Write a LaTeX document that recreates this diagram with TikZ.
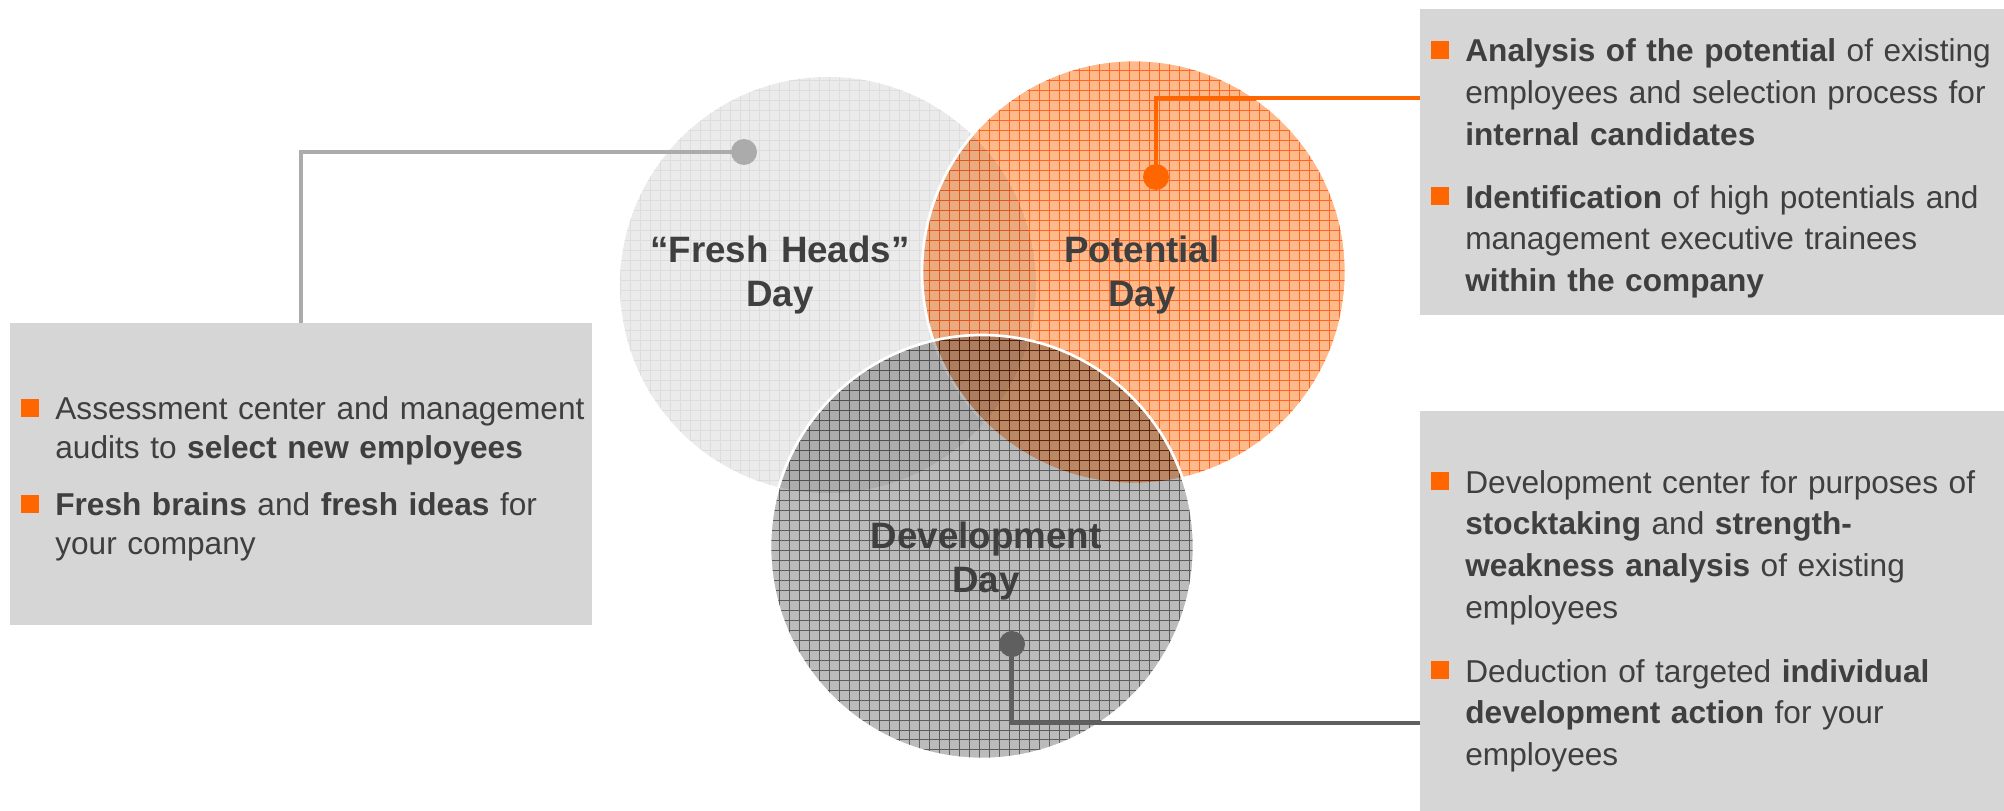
\documentclass[tikz,border=0pt]{standalone}
\usepackage{fontspec}
\setmainfont{Liberation Sans}
\definecolor{txt}{HTML}{3F3F3F}
\definecolor{boxgray}{HTML}{D6D6D6}
\definecolor{accent}{HTML}{FF6600}
\definecolor{freshfill}{HTML}{EBEBEB}
\definecolor{freshgrid}{HTML}{DDDDDD}
\definecolor{potfill}{HTML}{FFBA8C}
\definecolor{potgrid}{HTML}{FF8C40}
\definecolor{devfill}{HTML}{BBBBBB}
\definecolor{devgrid}{HTML}{7E7E7E}
\definecolor{linegray}{HTML}{ABABAB}
\definecolor{linedark}{HTML}{5F5F5F}

\begin{document}
\begin{tikzpicture}[x=0.02cm, y=-0.02cm,
    infobox/.style={fill=boxgray, inner sep=0pt, outer sep=0pt},
    bullet/.style={fill=accent, minimum size=0.37cm, inner sep=0pt},
    dot/.style={circle, minimum size=0.52cm, inner sep=0pt},
    conn/.style={line width=2.2pt},
    gridline/.style={line width=0.4pt, step=0.2cm},
    daylabel/.style={text=txt, font=\fontsize{20.9}{25.6}\selectfont\bfseries,
        align=center, text width=7cm, anchor=base, inner sep=0pt},
    itemtext/.style={text=txt, font=\fontsize{18}{#1}\selectfont,
        align=left, text width=11cm, anchor=base west, inner sep=0pt},
    itemtext/.default=23.9]
    \useasboundingbox (0,0) rectangle (2004,811);

    % grey boxes
    \node[infobox, minimum width=582*0.02cm, minimum height=302*0.02cm] (lbox) at (301,474) {};
    \node[infobox, minimum width=584*0.02cm, minimum height=306*0.02cm] (tbox) at (1712,162) {};
    \node[infobox, minimum width=584*0.02cm, minimum height=400*0.02cm] (bbox) at (1712,611) {};

    % the three circles
    \begin{scope}
        \clip (828,285) circle[radius=208];
        \fill[freshfill] (828,285) circle[radius=208];
        \draw[freshgrid, gridline] (600,60) grid (1060,510);
    \end{scope}
    \begin{scope}[blend mode=multiply]
        \clip (1134,272) circle[radius=212];
        \fill[potfill] (1134,272) circle[radius=212];
        \draw[potgrid, gridline] (900,40) grid (1370,500);
    \end{scope}
    \draw[white, line width=1.5pt] (1134,272) circle[radius=212];
    \begin{scope}[blend mode=multiply]
        \clip (982,547) circle[radius=212];
        \fill[devfill] (982,547) circle[radius=212];
        \draw[devgrid, gridline] (750,320) grid (1220,780);
    \end{scope}
    \draw[white, line width=1.5pt] (982,547) circle[radius=212];

    % circle labels
    \node[daylabel] (fresh) at (780,262) {“Fresh Heads”\\Day};
    \node[daylabel] (potential) at (1142,262) {Potential\\Day};
    \node[daylabel] (development) at (986,548) {Development\\Day};

    % dots and connectors
    \node[dot, fill=linegray] (gdot) at (744,152) {};
    \node[dot, fill=accent] (odot) at (1156,177) {};
    \node[dot, fill=linedark] (ddot) at (1012,644) {};
    \coordinate (oend) at (1420,98);
    \coordinate (dend) at (1420,723);
    \draw[conn, linegray] (gdot.center) -| (lbox.north);
    \draw[conn, accent, line width=2pt] (odot.center) |- (oend);
    \draw[conn, linedark] (ddot.center) |- (dend);

    % left box
    \node[bullet] (lb1) at (30,408) {};
    \node[itemtext=22.2] (lt1) at (55,419) {Assessment center and management\\audits to \textbf{select new employees}};
    \node[bullet] (lb2) at (30,504) {};
    \node[itemtext=22.2] (lt2) at (55,515) {\textbf{Fresh brains} and \textbf{fresh ideas} for\\your company};

    % top right box
    \node[bullet] (tb1) at (1440,50) {};
    \node[itemtext] (tt1) at (1465,62) {\textbf{Analysis of the potential} of existing\\employees and selection process for\\\textbf{internal candidates}};
    \node[bullet] (tb2) at (1440,196) {};
    \node[itemtext] (tt2) at (1465,208) {\textbf{Identification} of high potentials and\\management executive trainees\\\textbf{within the company}};

    % bottom right box
    \node[bullet] (bb1) at (1440,481) {};
    \node[itemtext] (bt1) at (1465,493) {Development center for purposes of\\\textbf{stocktaking} and \textbf{strength-}\\\textbf{weakness analysis} of existing\\employees};
    \node[bullet] (bb2) at (1440,670) {};
    \node[itemtext] (bt2) at (1465,682) {Deduction of targeted \textbf{individual}\\\textbf{development action} for your\\employees};
\end{tikzpicture}
\end{document}
